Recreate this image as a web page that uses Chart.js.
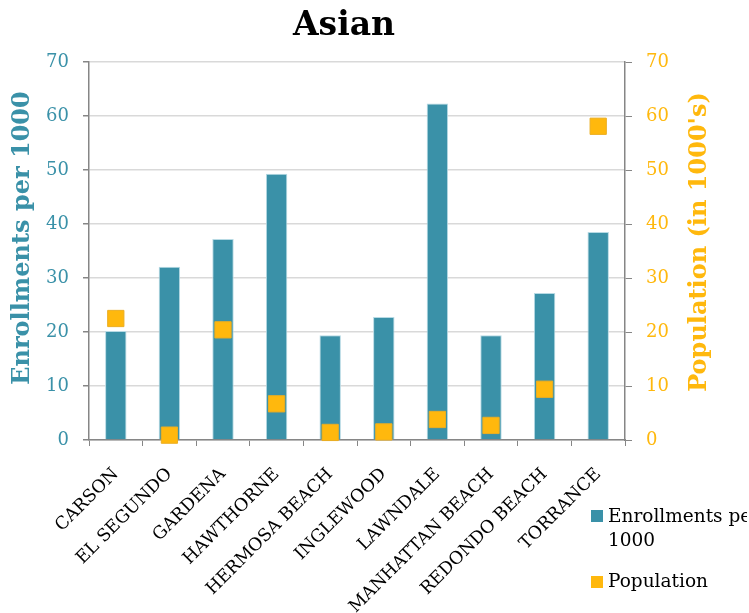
<!DOCTYPE html>
<html lang="en">

<head>
    <meta charset="UTF-8">
    <meta name="viewport" content="width=device-width, initial-scale=1.0">
    <title>Asian</title>
    <script src="https://cdn.jsdelivr.net/npm/chart.js@4.4.0/dist/chart.umd.min.js"></script>
    <style>
        body { margin: 0; background: #fff; }
        #wrap { width: 749px; height: 613px; }
    </style>
</head>

<body>
    <div id="wrap"><canvas id="chart"></canvas></div>
    <script>
        const chartTitle = 'Asian';
        const leftTitle = 'Enrollments per 1000';
        const rightTitle = "Population (in 1000's)";
        const cities = ['CARSON', 'EL SEGUNDO', 'GARDENA', 'HAWTHORNE', 'HERMOSA BEACH',
            'INGLEWOOD', 'LAWNDALE', 'MANHATTAN BEACH', 'REDONDO BEACH', 'TORRANCE'];
        const enrollments = [20.2, 32.1, 37.2, 49.3, 19.4, 22.8, 62.3, 19.4, 27.2, 38.5];
        const population = [22.5, 0.9, 20.4, 6.7, 1.4, 1.5, 3.8, 2.7, 9.4, 58.1];
        const axisMin = 0;
        const axisMax = 70;
        const axisStep = 10;

        const teal = '#3A91A8';
        const gold = '#FFB80D';
        const font = '"DejaVu Serif", serif';

        // titles and the little legend in the lower right are drawn by hand
        const extras = {
            id: 'extras',
            afterDraw(chart) {
                const ctx = chart.ctx;
                ctx.save();
                ctx.fillStyle = '#000';
                ctx.font = 'bold 33px ' + font;
                ctx.textAlign = 'center';
                ctx.textBaseline = 'alphabetic';
                ctx.fillText(chartTitle, 344, 35);

                ctx.textBaseline = 'middle';
                ctx.font = 'bold 24px ' + font;
                ctx.save();
                ctx.translate(23, 238);
                ctx.rotate(-Math.PI / 2);
                ctx.fillStyle = teal;
                ctx.fillText(leftTitle, 0, 0);
                ctx.restore();

                ctx.save();
                ctx.translate(700, 242);
                ctx.rotate(-Math.PI / 2);
                ctx.fillStyle = gold;
                ctx.fillText(rightTitle, 0, 0);
                ctx.restore();

                // legend, text box is cut off at the right like the original
                const ds = chart.data.datasets;
                ctx.font = '18.5px ' + font;
                ctx.textAlign = 'left';
                ctx.fillStyle = ds[0].backgroundColor;
                ctx.fillRect(591, 510, 12, 12);
                ctx.fillStyle = ds[1].backgroundColor;
                ctx.fillRect(591, 576, 12, 12);
                ctx.beginPath();
                ctx.rect(600, 490, 147, 120);
                ctx.clip();
                ctx.fillStyle = '#000';
                const words = ds[0].label.split(' ');
                ctx.fillText(words.slice(0, 2).join(' '), 608, 517);
                ctx.fillText(words.slice(2).join(' '), 608, 541);
                ctx.fillText(ds[1].label, 608, 582);
                ctx.restore();
            }
        };

        const ctx = document.getElementById('chart').getContext('2d');
        const myChart = new Chart(ctx, {
            type: 'bar',
            data: {
                labels: cities,
                datasets: [{
                    type: 'bar',
                    label: leftTitle,
                    data: enrollments,
                    backgroundColor: teal,
                    borderColor: '#B7DAE4',
                    borderWidth: 1,
                    barPercentage: 0.4,
                    categoryPercentage: 1,
                    yAxisID: 'y',
                    order: 2
                }, {
                    type: 'line',
                    label: 'Population',
                    data: population,
                    showLine: false,
                    pointStyle: 'rect',
                    pointRadius: 11.5,
                    pointHoverRadius: 11.5,
                    backgroundColor: gold,
                    borderColor: '#EBAE22',
                    borderWidth: 1,
                    yAxisID: 'y1',
                    clip: false,
                    order: 1
                }]
            },
            options: {
                responsive: true,
                maintainAspectRatio: false,
                animation: false,
                devicePixelRatio: 1,
                layout: { padding: { top: 62 } },
                plugins: {
                    legend: { display: false },
                    title: { display: false },
                    tooltip: { enabled: false }
                },
                scales: {
                    x: {
                        afterFit: s => { s.height = 173; },
                        grid: {
                            offset: true,
                            drawOnChartArea: false,
                            tickLength: 6,
                            tickColor: '#868686'
                        },
                        border: { color: '#868686', width: 1.5 },
                        ticks: {
                            minRotation: 45,
                            maxRotation: 45,
                            autoSkip: false,
                            color: '#000',
                            padding: 18,
                            font: { family: font, size: 17.5 }
                        }
                    },
                    y: {
                        position: 'left',
                        min: axisMin,
                        max: axisMax,
                        afterFit: s => { s.width = 89; },
                        grid: {
                            color: '#D9D9D9',
                            lineWidth: 1.5,
                            tickLength: 6,
                            tickColor: '#868686'
                        },
                        border: { color: '#868686', width: 1.5 },
                        ticks: {
                            stepSize: axisStep,
                            color: teal,
                            padding: 14,
                            font: { family: font, size: 18 }
                        }
                    },
                    y1: {
                        position: 'right',
                        min: axisMin,
                        max: axisMax,
                        afterFit: s => { s.width = 124; },
                        grid: {
                            drawOnChartArea: false,
                            tickLength: 7,
                            tickColor: '#868686'
                        },
                        border: { color: '#868686', width: 1.5 },
                        ticks: {
                            stepSize: axisStep,
                            color: gold,
                            padding: 14,
                            font: { family: font, size: 18 }
                        }
                    }
                }
            },
            plugins: [extras]
        });
    </script>
</body>

</html>
